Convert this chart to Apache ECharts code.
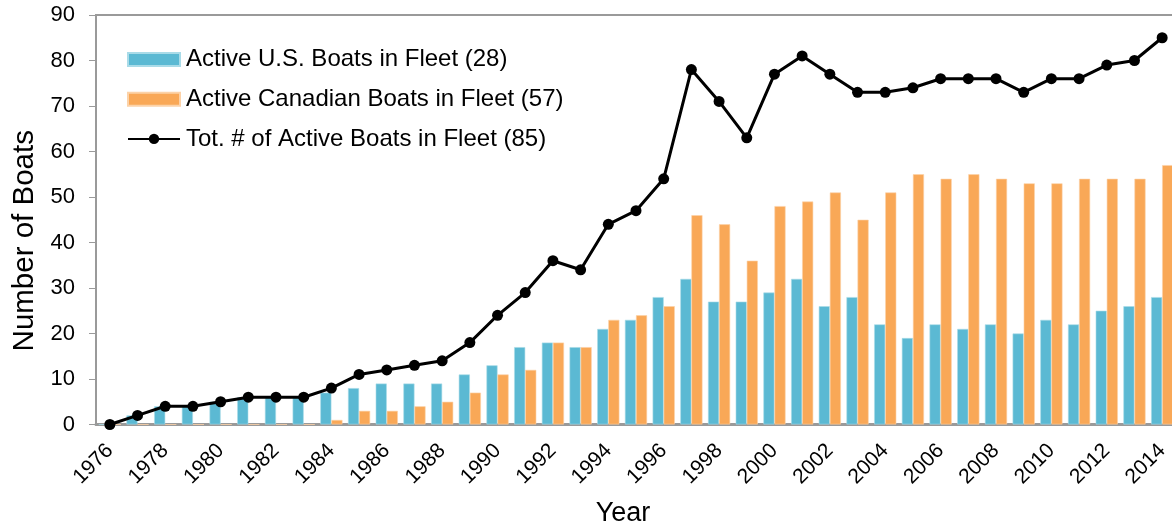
<!DOCTYPE html>
<html>
<head>
<meta charset="utf-8">
<script src="https://cdn.jsdelivr.net/npm/echarts@6/dist/echarts.min.js"></script>
<style>
html,body{margin:0;padding:0;background:#fff;}
#chart{width:1172px;height:531px;}
</style>
</head>
<body>
<div id="chart"></div>
<script>
const years = ['1976','1977','1978','1979','1980','1981','1982','1983','1984','1985','1986','1987','1988','1989','1990','1991','1992','1993','1994','1995','1996','1997','1998','1999','2000','2001','2002','2003','2004','2005','2006','2007','2008','2009','2010','2011','2012','2013','2014'];
const usBoats = [0,2,4,4,5,6,6,6,7,8,9,9,9,11,13,17,18,17,21,23,28,32,27,27,29,32,26,28,22,19,22,21,22,20,23,22,25,26,28];
const canadianBoats = [0,0,0,0,0,0,0,0,1,3,3,4,5,7,11,12,18,17,23,24,26,46,44,36,48,49,51,45,51,55,54,55,54,53,53,54,54,54,57];
const totalBoats = [0,2,4,4,5,6,6,6,8,11,12,13,14,18,24,29,36,34,44,47,54,78,71,63,77,81,77,73,73,74,76,76,76,73,76,76,79,80,85];
const seriesNames = ['Active U.S. Boats in Fleet (28)','Active Canadian Boats in Fleet (57)','Tot. # of Active Boats in Fleet (85)'];

const font = 'Liberation Sans, Arial, sans-serif';
const chart = echarts.init(document.getElementById('chart'));
chart.setOption({
  animation: false,
  backgroundColor: '#fff',
  textStyle: {fontFamily: font},
  grid: {left: 96, top: 15, width: 1080, height: 409.5, show: true, borderColor: '#9a9a9a', borderWidth: 2, containLabel: false, outerBoundsMode: 'none'},
  legend: {
    orient: 'vertical', left: 127, top: 46.5, padding: 0,
    itemWidth: 52, itemHeight: 13, itemGap: 13.7,
    textStyle: {fontSize: 24, color: '#000', fontFamily: font, lineHeight: 26, padding: [0,0,0,1]},
    data: [
      {name: seriesNames[0], icon: 'rect'},
      {name: seriesNames[1], icon: 'rect'},
      {name: seriesNames[2]}
    ]
  },
  xAxis: {
    type: 'category', data: years,
    name: 'Year', nameLocation: 'middle', nameGap: 76,
    nameTextStyle: {fontSize: 27, color: '#000', fontFamily: font, padding: [0, 26, 0, 0]},
    axisLine: {lineStyle: {color: '#9a9a9a', width: 3}},
    axisTick: {show: false},
    axisLabel: {interval: 1, rotate: 45, fontSize: 21, color: '#000', margin: 23, fontFamily: font},
  },
  yAxis: {
    type: 'value', min: 0, max: 90, interval: 10,
    name: 'Number of Boats', nameLocation: 'middle', nameGap: 51,
    nameTextStyle: {fontSize: 29.5, color: '#000', fontFamily: font, padding: [0, 42, 0, 0]},
    axisLine: {show: true, lineStyle: {color: '#9a9a9a', width: 2}},
    axisTick: {show: true, length: 7, lineStyle: {color: '#9a9a9a', width: 1}},
    axisLabel: {fontSize: 22, color: '#000', margin: 21, fontFamily: font},
    splitLine: {show: false}
  },
  series: [
    {name: seriesNames[0], type: 'bar', data: usBoats, barGap: '0%', barCategoryGap: '20%',
     itemStyle: {color: '#5bb9d3', borderColor: '#a9dbe8', borderWidth: 0.6}},
    {name: seriesNames[1], type: 'bar', data: canadianBoats, barGap: '0%', barCategoryGap: '20%',
     itemStyle: {color: '#f9a857', borderColor: '#fcd2a8', borderWidth: 0.6}},
    {name: seriesNames[2], type: 'line', data: totalBoats, z: 5,
     symbol: 'circle', symbolSize: 11,
     lineStyle: {color: '#000', width: 3}, itemStyle: {color: '#000'}}
  ]
});
</script>
</body>
</html>
